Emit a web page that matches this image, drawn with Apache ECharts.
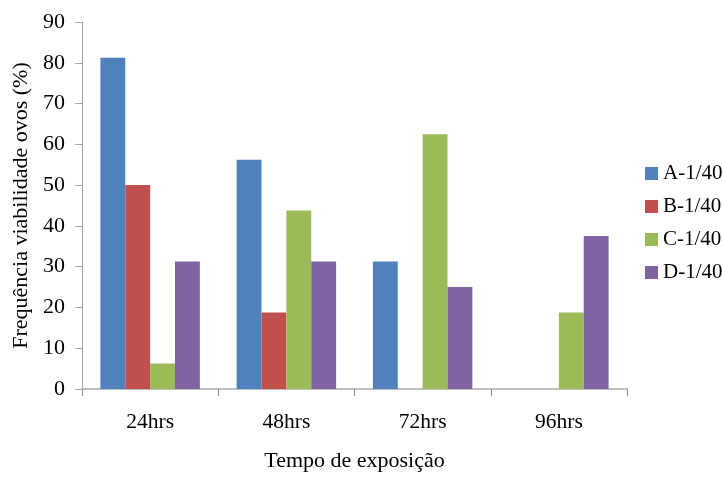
<!DOCTYPE html>
<html>
<head>
<meta charset="utf-8">
<script src="https://cdn.jsdelivr.net/npm/echarts@6/dist/echarts.min.js"></script>
<style>
  html, body { margin: 0; padding: 0; background: #fff; }
  #chart { width: 722px; height: 477px; }
</style>
</head>
<body>
<div id="chart"></div>
<script>
// Exposure times and egg viability frequency (%) per treatment
const categories = ['24hrs', '48hrs', '72hrs', '96hrs'];
const seriesNames = ['A-1/40', 'B-1/40', 'C-1/40', 'D-1/40'];
const valuesA = [81.25, 56.25, 31.25, 0];
const valuesB = [50, 18.75, 0, 0];
const valuesC = [6.25, 43.75, 62.5, 18.75];
const valuesD = [31.25, 31.25, 25, 37.5];
const yTicks = [0, 10, 20, 30, 40, 50, 60, 70, 80, 90];

const colors = ['#4F81BD', '#C0504D', '#9BBB59', '#8064A2'];
const allValues = [valuesA, valuesB, valuesC, valuesD];
const font = '"Liberation Serif", "Times New Roman", serif';

const chart = echarts.init(document.getElementById('chart'), null, { renderer: 'canvas' });
chart.setOption({
  animation: false,
  backgroundColor: '#ffffff',
  textStyle: { fontFamily: font },
  grid: { left: 82, right: 95, top: 22, bottom: 81.5, containLabel: false },
  legend: {
    orient: 'vertical',
    left: 640,
    top: 158,
    itemWidth: 13,
    itemHeight: 13,
    itemGap: 12,
    icon: 'rect',
    textStyle: { fontFamily: font, fontSize: 21, color: '#000' },
    data: seriesNames
  },
  xAxis: {
    type: 'category',
    data: categories,
    name: 'Tempo de exposição',
    nameLocation: 'middle',
    nameGap: 61,
    nameTextStyle: { fontFamily: font, fontSize: 22, color: '#000' },
    axisLine: { lineStyle: { color: '#bfbfbf', width: 2 } },
    axisTick: { show: true, length: 7, lineStyle: { color: '#8a8a8a', width: 1 } },
    axisLabel: { fontFamily: font, fontSize: 21.5, color: '#000', margin: 22 }
  },
  yAxis: {
    type: 'value',
    min: yTicks[0],
    max: yTicks[yTicks.length - 1],
    interval: 10,
    name: 'Frequência viabilidade ovos (%)',
    nameLocation: 'middle',
    nameGap: 48,
    nameRotate: 90,
    nameTextStyle: { fontFamily: font, fontSize: 22, color: '#000' },
    axisLine: { show: true, lineStyle: { color: '#a6a6a6', width: 1 } },
    axisTick: { show: true, length: 7, lineStyle: { color: '#a6a6a6' } },
    splitLine: { show: false },
    axisLabel: { fontFamily: font, fontSize: 22, color: '#000', margin: 17 }
  },
  series: seriesNames.map((name, i) => ({
    name: name,
    type: 'bar',
    data: allValues[i],
    barGap: '0%',
    barCategoryGap: '27%',
    itemStyle: { color: colors[i] }
  }))
});
</script>
</body>
</html>
